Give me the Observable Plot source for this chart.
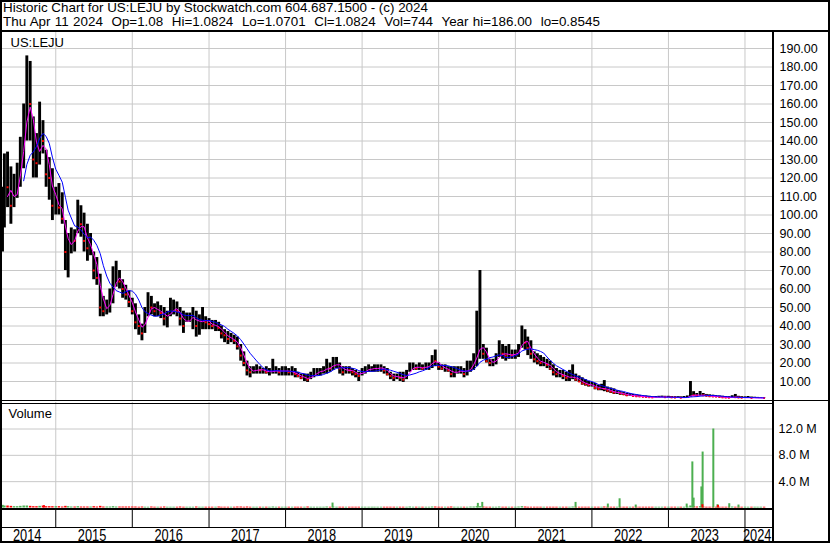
<!DOCTYPE html>
<html><head><meta charset="utf-8">
<script src="https://cdn.jsdelivr.net/npm/d3@7"></script>
<script src="https://cdn.jsdelivr.net/npm/@observablehq/plot@0.6"></script>
<style>
html,body{margin:0;padding:0;background:#fff;}
#chart{position:relative;width:830px;height:543px;font-family:"Liberation Sans",Arial,sans-serif;overflow:hidden;background:#fff}
.hdr{position:absolute;left:3px;top:1px;font-size:13.4px;white-space:pre;color:#000;line-height:14px}
.ln{position:absolute;background:#000}
.pl{position:absolute;left:0}
</style></head>
<body>
<div id="chart">
  <div class="hdr">Historic Chart for US:LEJU by Stockwatch.com 604.687.1500 - (c) 2024<br><span style="word-spacing:0.6px">Thu Apr 11 2024  Op=1.08  Hi=1.0824  Lo=1.0701  Cl=1.0824  Vol=744  Year hi=186.00  lo=0.8545</span></div>
  <div class="pl" id="price" style="top:32px"></div>
  <div class="pl" id="volume" style="top:402px"></div>
  <div class="pl" id="band1" style="top:510px"></div>
  <div class="pl" id="band2" style="top:527px"></div>
  <div class="ln" style="left:0;top:30px;width:830px;height:2px"></div>
  <div class="ln" style="left:0;top:400px;width:830px;height:1px"></div>
  <div class="ln" style="left:0;top:403px;width:773px;height:1px"></div>
  <div class="ln" style="left:0;top:508px;width:773px;height:2px"></div>
  <div class="ln" style="left:0;top:526.5px;width:773px;height:1px"></div>
  <div class="ln" style="left:772px;top:30px;width:2px;height:513px"></div>
  <div style="position:absolute;left:0;top:0;width:830px;height:543px;box-sizing:border-box;border:2px solid #000;pointer-events:none"></div>
</div>
<script>
// ---- data (semi-monthly periods, Apr 2014 – Apr 2024) ----
const highs = [
 115,133,134,126,122,128,142,160,186,183,153,144,161,151,135,131,125,
 115,117,112,97,90,93,92,108,105,101,95,90,80,77,68,56,54,60,72,75,70,65,62,59,
 55,52,46,41,50,58,56,52,53,51,50,48,55,54,53,50,48,47,47,50,48,46,50,45,
 44,43,43,42,40,38,37,36,35,34,30,26,21,18,18,19,18,17,18,17,22,18,17,18,
 18,17,18,17,15,14,14,14,15,17,17,17,18,22,20,23,23,20,18,18,18,17,16,15,
 17,18,19,18,19,19,19,18,17,15,14,14,15,15,16,20,20,19,20,19,20,20,24,27,
 20,19,19,18,18,18,18,18,17,21,21,25,48,70,30,28,22,22,25,32,30,29,30,27,
 27,30,40,38,34,32,26,25,24,23,22,21,19,17,16,16,15,16,19,14,13,12,11,10,
 9.5,9,8,8.5,10.5,7,6.5,6,5,4.5,4,3.5,3.5,3,2.8,2.5,2.3,2.2,2,1.8,1.9,2,2.1,2,
 2,1.9,1.8,1.8,1.7,1.9,2.2,10,4.5,3.5,4.6,3.5,3,2.8,2.6,2.4,2.2,2,1.9,1.8,2.3,3,2,1.8,
 1.7,1.9,1.6,1.5,1.4,1.3,1.2];
const lows = [
 80,93,104,95,104,109,115,125,140,140,120,120,127,133,115,108,97,
 100,100,95,70,66,79,80,90,88,80,75,78,65,62,45,45,46,47,52,61,60,55,54,50,
 46,38,35,32,36,45,46,45,45,44,40,39,45,46,45,40,36,42,42,38,34,35,38,38,
 38,38,37,37,33,31,30,31,30,27,21,18,13,12,14,14,14,14,14,13,14,14,13,13,
 13,13,13,12,12,11,10,9.5,11,12,13,13,14,14,15,16,17,14,13,14,14,13,12,10,
 13,14,15,15,15,15,15,14,13,11,10,11,10,9.5,11,15,16,16,16,16,16,16,17,18,
 16,16,15,15,12,12,14,14,12,13,15,16,18,22,22,20,18,18,19,23,22,21,22,22,
 22,23,28,27,24,22,20,19,18,18,17,16,13,12,12,11,10,10,11,10,9.5,8,7.5,7,
 7,5.5,5,5,4.5,4,3.5,3,3,2.5,2.5,2,2,1.8,1.6,1.5,1.4,1.3,1.2,1.1,1.1,1.2,1.3,1.3,
 1.2,1.1,1.1,1.0,1.0,1.0,1.1,1.5,2,1.8,2,2,1.8,1.6,1.5,1.4,1.2,1.1,1.0,1.0,1.1,1.1,1.0,0.9,
 0.9,0.9,0.85,0.9,0.9,0.95,1.0];
const closes = [
 95,120,115,105,110,118,135,150,165,160,130,128,145,140,122,120,105,
 108,104,98,80,84,88,86,100,95,86,82,84,70,66,50,48,50,55,66,68,64,60,57,53,
 48,42,40,36,46,52,50,48,49,47,44,45,50,50,48,44,40,44,44,46,40,42,45,42,
 41,40,40,39,36,35,33,33,32,29,24,20,16,15,16,17,16,16,15,15,16,16,15,16,
 16,15,15,14,13,12,12,11,13,15,15,16,16,18,17,20,20,17,15,17,16,15,14,13,
 16,16,17,17,17,17,18,16,14,13,12,13,12,11,15,18,18,17,18,17,18,19,22,21,
 18,17,17,16,14,15,16,16,14,17,18,22,28,32,25,21,20,20,23,26,25,24,25,24,
 25,27,36,31,28,25,22,21,20,20,19,17,15,14,14,13,12,12,13,11,10,9,8.5,8,
 8,6.5,6,6.5,6,5,4.5,4,4,3.5,3,2.5,2.5,2.2,2,1.9,1.7,1.6,1.5,1.4,1.5,1.6,1.6,1.5,
 1.5,1.4,1.3,1.3,1.2,1.3,1.5,3.5,2.5,2.2,3,2.5,2.2,2,1.9,1.8,1.6,1.4,1.3,1.2,1.6,1.5,1.3,1.2,
 1.2,1.3,1.1,1.1,1.1,1.1,1.08];
const vols = [ // millions
 0.4,0.3,0.3,0.25,0.2,0.2,0.25,0.3,0.3,0.25,0.2,0.2,0.25,0.3,0.2,0.2,0.2,
 0.2,0.2,0.15,0.25,0.2,0.15,0.15,0.2,0.15,0.15,0.15,0.15,0.2,0.15,0.25,0.15,0.15,0.15,0.2,0.15,0.15,0.15,0.15,0.15,
 0.15,0.15,0.12,0.15,0.12,0.12,0.15,0.12,0.12,0.12,0.15,0.12,0.12,0.12,0.12,0.15,0.12,0.12,0.12,0.12,0.15,0.12,0.12,0.12,
 0.12,0.12,0.12,0.15,0.12,0.12,0.12,0.12,0.12,0.15,0.15,0.12,0.15,0.12,0.12,0.12,0.12,0.12,0.12,0.12,0.15,0.12,0.12,0.12,
 0.12,0.12,0.12,0.12,0.12,0.12,0.12,0.15,0.12,0.12,0.12,0.12,0.12,0.15,0.12,0.15,0.12,0.12,0.12,0.12,0.12,0.12,0.12,0.12,
 0.12,0.12,0.12,0.12,0.12,0.12,0.12,0.12,0.12,0.12,0.12,0.12,0.12,0.12,0.12,0.15,0.12,0.12,0.12,0.12,0.12,0.12,0.15,0.15,
 0.12,0.12,0.12,0.12,0.15,0.12,0.12,0.12,0.12,0.12,0.15,0.15,0.2,0.2,0.15,0.12,0.12,0.12,0.12,0.15,0.12,0.12,0.12,0.12,
 0.12,0.15,0.2,0.15,0.12,0.12,0.12,0.12,0.12,0.12,0.12,0.12,0.12,0.12,0.12,0.12,0.12,0.12,0.15,0.12,0.12,0.12,0.12,0.12,
 0.12,0.12,0.12,0.12,0.15,0.12,0.12,0.12,0.12,0.12,0.12,0.12,0.12,0.12,0.12,0.12,0.12,0.12,0.12,0.12,0.12,0.12,0.12,0.12,
 0.12,0.12,0.12,0.12,0.12,0.12,0.15,0.3,0.2,0.15,0.2,0.15,0.12,0.12,0.12,0.12,0.12,0.12,0.12,0.12,0.15,0.12,0.12,0.12,
 0.12,0.12,0.12,0.12,0.12,0.12,0.12];
const spikeDates = ["2014-11-06","2018-08-13","2020-07-06","2020-07-27","2021-10-15","2022-03-18","2022-05-13","2022-07-29","2023-03-29","2023-04-25","2023-05-01","2023-06-07","2023-06-12","2023-06-13","2023-08-03","2023-08-23","2023-08-25","2023-10-18","2023-12-01"];
const spikeVols = [0.35,0.75,0.7,0.85,0.85,0.6,1.4,0.45,0.6,7.0,1.5,3.2,0.5,8.5,12.0,0.5,0.4,0.65,0.45]; // millions
const spikeUp = [false,true,true,true,true,true,true,true,true,true,true,true,false,true,true,true,false,true,true];
const priceTicks = [10,20,30,40,50,60,70,80,90,100,110,120,130,140,150,160,170,180,190];
const volTicks = [4e6, 8e6, 12e6];
const yearLabels = [2014,2015,2016,2017,2018,2019,2020,2021,2022,2023,2024];

// ---- build tables ----
const periodDates = [new Date(Date.UTC(2014,3,22))];
for (let y = 2014; y <= 2024; y++) for (let m = 0; m < 12; m++) for (const d of [1,16]) {
  const t = Date.UTC(y, m, d);
  if (t >= Date.UTC(2014,4,1) && t <= Date.UTC(2024,3,1)) periodDates.push(new Date(t));
}
const data = periodDates.map((date, i) => ({
  date, high: highs[i], low: lows[i], close: closes[i], vol: vols[i] * 1e6,
  up: i === 0 || closes[i] >= closes[i-1]
}));
const spikes = spikeDates.map((s, i) => ({date: new Date(s), vol: spikeVols[i] * 1e6, up: spikeUp[i]}));
const x0 = new Date(Date.UTC(2014,3,22)), x1 = new Date(Date.UTC(2024,4,16));
const yearStarts = yearLabels.slice(1).map(y => new Date(Date.UTC(y,0,1)));
const cellBounds = [x0, ...yearStarts, x1];
const labelRows = yearLabels.map((y, i) => ({
  text: String(y), date: new Date((+cellBounds[i] + +Math.min(+cellBounds[i+1], +x1)) / 2)
}));
const xScale = {type: "utc", domain: [x0, x1], axis: null};
const common = {width: 830, marginLeft: 2, marginRight: 57};
const font = {fontFamily: "'Liberation Sans', Arial, sans-serif", fontSize: "12.5px", color: "#000", background: "transparent", overflow: "visible"};
const GRID = "#c8c8c8", GREEN = "#4caf50", RED = "#ff0000";

const price = Plot.plot({
  ...common, height: 370, marginTop: 0, marginBottom: 1,
  x: xScale,
  y: {domain: [0, 190], range: [367.5, 16]},
  style: font,
  marks: [
    Plot.ruleY(priceTicks, {stroke: GRID}),
    Plot.ruleX(yearStarts, {stroke: GRID}),
    Plot.ruleX(data, {x: "date", y1: "low", y2: "high", stroke: "#000", strokeWidth: 2.9}),
    Plot.dot(data.filter(d => !d.up), {x: "date", y: "close", r: 1.1, symbol: "square", fill: RED}),
    Plot.lineY(data, Plot.windowY({k: 3, anchor: "end", strict: true}, {x: "date", y: "close", stroke: "#ff00ff", strokeWidth: 1})),
    Plot.lineY(data, Plot.windowY({k: 8, anchor: "end", strict: true}, {x: "date", y: "close", stroke: "#0000ff", strokeWidth: 1})),
    Plot.axisY({anchor: "right", ticks: priceTicks, tickFormat: d => d.toFixed(2), tickSize: 0, tickPadding: 6, label: null}),
    Plot.text(["US:LEJU"], {frameAnchor: "top-left", dx: 8, dy: 10, textAnchor: "start", lineAnchor: "middle", fontSize: 13})
  ]
});
document.getElementById("price").append(price);

const volume = Plot.plot({
  ...common, height: 108, marginTop: 0, marginBottom: 0,
  x: xScale,
  y: {domain: [0, 12e6], range: [105.5, 26.5]},
  style: font,
  marks: [
    Plot.ruleY(volTicks, {stroke: GRID}),
    Plot.ruleX(yearStarts, {stroke: GRID}),
    Plot.ruleX(data.filter(d => d.up), {x: "date", y1: 0, y2: "vol", stroke: GREEN, strokeWidth: 2.5}),
    Plot.ruleX(data.filter(d => !d.up), {x: "date", y1: 0, y2: "vol", stroke: RED, strokeWidth: 2.5}),
    Plot.ruleX(spikes.filter(d => d.up), {x: "date", y1: 0, y2: "vol", stroke: GREEN, strokeWidth: 2}),
    Plot.ruleX(spikes.filter(d => !d.up), {x: "date", y1: 0, y2: "vol", stroke: RED, strokeWidth: 2}),
    Plot.axisY({anchor: "right", ticks: volTicks, tickFormat: d => (d / 1e6).toFixed(1) + " M", tickSize: 0, tickPadding: 5, label: null}),
    Plot.text(["Volume"], {frameAnchor: "top-left", dx: 6, dy: 11, textAnchor: "start", lineAnchor: "middle", fontSize: 13})
  ]
});
document.getElementById("volume").append(volume);

const band1 = Plot.plot({
  ...common, height: 17, marginTop: 0, marginBottom: 0,
  x: xScale, style: font,
  marks: [Plot.ruleX(yearStarts, {stroke: "#000"})]
});
document.getElementById("band1").append(band1);

const band2 = Plot.plot({
  ...common, height: 15, marginTop: 0, marginBottom: 0,
  x: xScale, style: font,
  marks: [
    Plot.ruleX(yearStarts.slice(-1), {stroke: "#000"}),
    Plot.text(labelRows, {x: "date", text: "text", frameAnchor: "middle", dx: -2, dy: 0.5, fontSize: 16, lineAnchor: "middle"})
  ]
});
document.getElementById("band2").append(band2);
d3.select(band2).selectAll("text").attr("textLength", 28.5).attr("lengthAdjust", "spacingAndGlyphs");
</script>
</body></html>
